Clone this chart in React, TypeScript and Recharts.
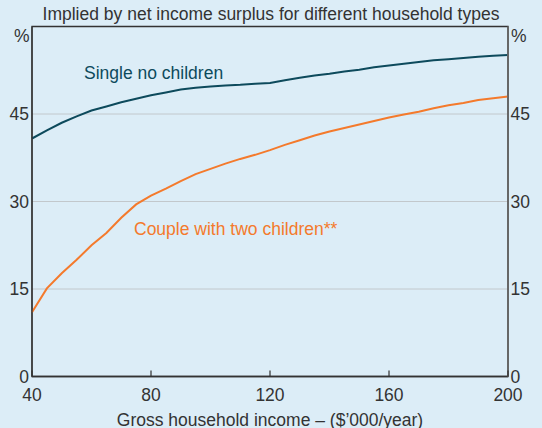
import React from 'react';
import { LineChart, Line, XAxis, YAxis, CartesianGrid, ReferenceArea } from 'recharts';

const incomes = [40, 45, 50, 55, 60, 65, 70, 75, 80, 85, 90, 95, 100, 105, 110, 115, 120, 125, 130, 135, 140, 145, 150, 155, 160, 165, 170, 175, 180, 185, 190, 195, 200];
const singleNoChildren = [40.8, 42.2, 43.5, 44.6, 45.6, 46.3, 47.0, 47.6, 48.2, 48.7, 49.2, 49.5, 49.7, 49.9, 50.0, 50.2, 50.3, 50.8, 51.2, 51.6, 51.9, 52.3, 52.6, 53.0, 53.3, 53.6, 53.9, 54.2, 54.4, 54.6, 54.8, 55.0, 55.1];
const coupleTwoChildren = [11.0, 15.1, 17.7, 20.0, 22.5, 24.6, 27.2, 29.5, 31.0, 32.2, 33.5, 34.7, 35.6, 36.5, 37.3, 38.0, 38.8, 39.7, 40.5, 41.3, 42.0, 42.6, 43.2, 43.8, 44.4, 44.9, 45.4, 46.0, 46.5, 46.9, 47.4, 47.7, 48.0];
const xTicks = [40, 80, 120, 160, 200];
const yTicks = [0, 15, 30, 45];

const title = 'Implied by net income surplus for different household types';
const xTitle = 'Gross household income – ($’000/year)';
const singleLabel = 'Single no children';
const coupleLabel = 'Couple with two children**';

const data = incomes.map((inc, i) => ({ inc, single: singleNoChildren[i], couple: coupleTwoChildren[i] }));

const FONT = '"Liberation Sans", Arial, sans-serif';
const FS = 17.5;
const TEXT = '#333333';
const TEAL = '#0d4a5c';
const ORANGE = '#f47a2c';
const BG = '#dcedf7';
const FRAME = '#333333';
const FRAME_RIGHT = '#666666';

const XTick = (props: any) => {
  const { x, y, payload } = props;
  return (
    <g>
      <rect x={x - 0.6} y={y - 6} width={1.2} height={6} fill={FRAME} />
      <text x={x} y={y + 24.5} textAnchor="middle" fontFamily={FONT} fontSize={FS} fill={TEXT}>
        {payload.value}
      </text>
    </g>
  );
};

const RightTick = (props: any) => {
  const { x, y, payload } = props;
  return (
    <text x={x} y={y} dy="0.355em" textAnchor="start" fontFamily={FONT} fontSize={FS} fill={TEXT}>
      {payload.value}
    </text>
  );
};

export default function App() {
  return (
    <div style={{ position: 'absolute', left: 0, top: 0, width: 542, height: 428, background: BG, overflow: 'hidden' }}>
      <LineChart
        width={542}
        height={428}
        data={data}
        margin={{ top: 26.5, right: 0, bottom: 21.5, left: 0 }}
      >
        <CartesianGrid vertical={false} stroke="#c2c8cc" strokeWidth={1} />
        <ReferenceArea
          x1={40}
          x2={200}
          y1={0}
          y2={60}
          fill="none"
          fillOpacity={0}
          stroke={FRAME}
          strokeWidth={1.3}
          strokeOpacity={1}
          ifOverflow="visible"
        />
        <XAxis
          dataKey="inc"
          type="number"
          domain={[40, 200]}
          ticks={xTicks}
          interval={0}
          height={30}
          tickLine={false}
          tickSize={0}
          tickMargin={0}
          axisLine={{ stroke: FRAME, strokeWidth: 1.3 }}
          tick={<XTick />}
        />
        <YAxis
          orientation="left"
          type="number"
          domain={[0, 60]}
          ticks={yTicks}
          interval={0}
          width={32}
          tickLine={false}
          tickSize={0}
          tickMargin={3}
          axisLine={{ stroke: FRAME, strokeWidth: 1.3 }}
          tick={{ fontFamily: FONT, fontSize: FS, fill: TEXT }}
        />
        <YAxis
          yAxisId="right"
          orientation="right"
          type="number"
          domain={[0, 60]}
          ticks={yTicks}
          interval={0}
          width={34}
          tickLine={false}
          tickSize={0}
          tickMargin={2.5}
          axisLine={{ stroke: FRAME_RIGHT, strokeWidth: 1.8 }}
          tick={<RightTick />}
        />
        <Line
          type="linear"
          dataKey="single"
          stroke={TEAL}
          strokeWidth={2}
          dot={false}
          isAnimationActive={false}
        />
        <Line
          yAxisId="right"
          type="linear"
          dataKey="couple"
          stroke={ORANGE}
          strokeWidth={2}
          dot={false}
          isAnimationActive={false}
        />
      </LineChart>
      <svg
        width={542}
        height={428}
        style={{ position: 'absolute', left: 0, top: 0, pointerEvents: 'none' }}
      >
        <g fontFamily={FONT} fontSize={FS}>
          <text x={271} y={19.5} textAnchor="middle" fill={TEXT}>{title}</text>
          <text x={29.5} y={42} textAnchor="end" fill={TEXT}>%</text>
          <text x={511} y={42} textAnchor="start" fill={TEXT}>%</text>
          <text x={84} y={79} textAnchor="start" fill={TEAL}>{singleLabel}</text>
          <text x={134} y={234.5} textAnchor="start" fill={ORANGE}>{coupleLabel}</text>
          <text x={270} y={425.5} textAnchor="middle" fill={TEXT}>{xTitle}</text>
        </g>
      </svg>
    </div>
  );
}
